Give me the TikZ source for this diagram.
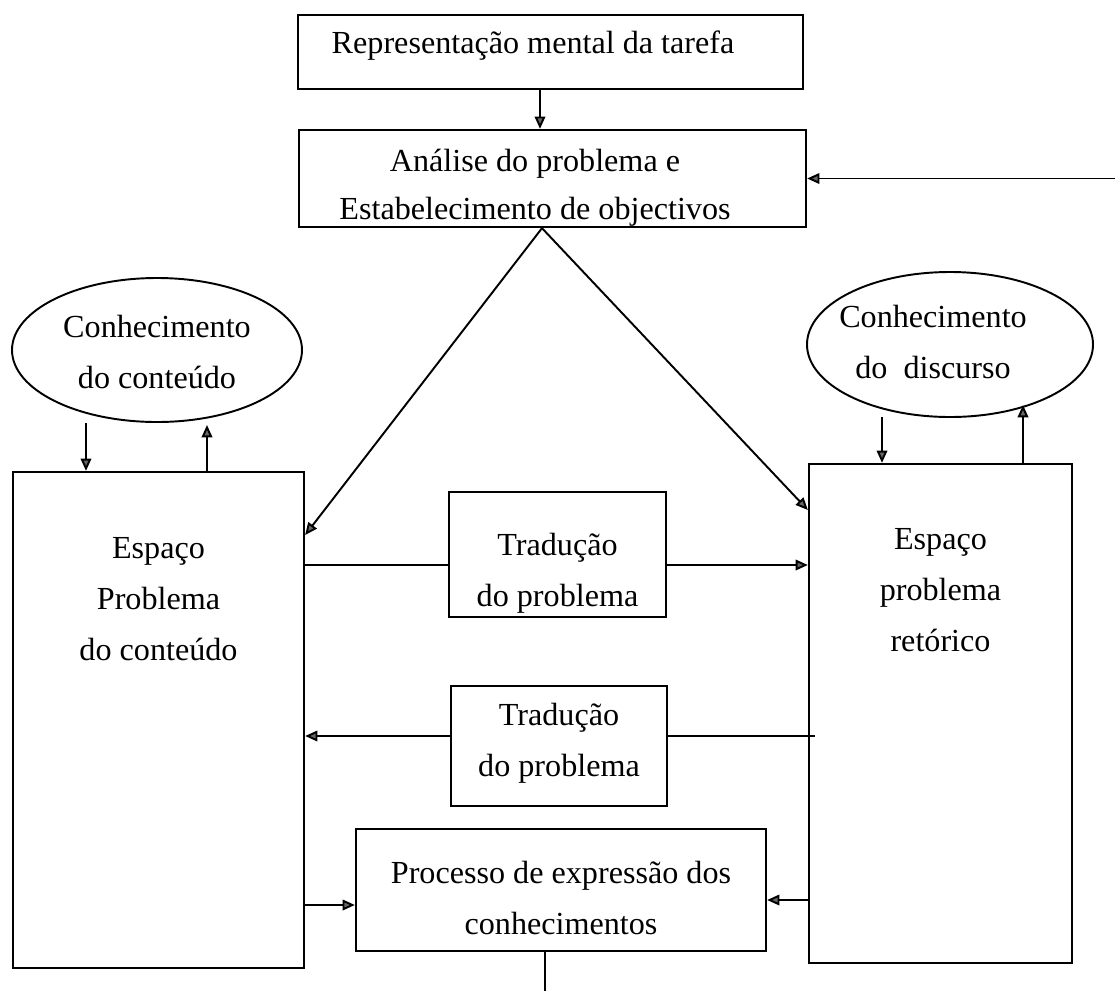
\documentclass[tikz,border=0pt]{standalone}
\usepackage{fontspec}
\setmainfont{Liberation Serif}
\usetikzlibrary{shapes.geometric,arrows.meta}

\begin{document}
\begin{tikzpicture}[x=0.02cm,y=-0.02cm,
  line width=1.1pt, >={Triangle[length=7pt,width=6pt,fill=black!60]},
  every node/.style={font=\fontsize{18.3}{29}\selectfont},
  box/.style={draw, line width=1.3pt, fill=white, inner sep=0pt},
  bubble/.style={draw, ellipse, line width=1.1pt, inner sep=0pt},
  txt/.style={anchor=base, align=center, inner sep=0pt}]
\useasboundingbox (0,0) rectangle (1115,991);

% boxes
\node[box, minimum width=505*0.02cm, minimum height=74*0.02cm] (task) at (550.5,52) {};
\node[box, minimum width=507*0.02cm, minimum height=97*0.02cm] (goals) at (552.5,178.5) {};
\node[bubble, minimum width=290*0.02cm, minimum height=144*0.02cm] (cont) at (157,350) {};
\node[bubble, minimum width=286*0.02cm, minimum height=145*0.02cm] (disc) at (950,344.5) {};
\node[box, minimum width=291*0.02cm, minimum height=496*0.02cm] (lspace) at (158.5,720) {};
\node[box, minimum width=263*0.02cm, minimum height=499*0.02cm] (rspace) at (940.5,713.5) {};
\node[box, minimum width=410*0.02cm, minimum height=122*0.02cm] (expr) at (561,890) {};

% free ends
\coordinate (fb) at (1115,178.5);
\coordinate (lc-in) at (86,423);
\coordinate (lc-out) at (207,425);
\coordinate (rc-in) at (882,417);
\coordinate (rc-out) at (1023,405);
\coordinate (end) at (545,991);

\draw[->] (task.south -| 540,0) -- (goals.north -| 540,0);
\draw[->] (fb) -- (goals.east);
\draw[->] (goals.south -| 542,0) -- (lspace.east |- 0,535);
\draw[->] (goals.south -| 542,0) -- (rspace.west |- 0,510);

\draw[->] (lc-in) -- (lspace.north -| lc-in);
\draw[->] (lspace.north -| lc-out) -- (lc-out);
\draw[->] (rc-in) -- (rspace.north -| rc-in);
\draw[->] (rspace.north -| rc-out) -- (rc-out);

\draw[->] (lspace.east |- 0,565) -- (rspace.west |- 0,565);
\draw[->] ([xshift=0.14cm]rspace.west |- 0,736) -- (lspace.east |- 0,736);
\draw[->] (lspace.east |- 0,905) -- (expr.west |- 0,905);
\draw[->] (rspace.west |- 0,900) -- (expr.east |- 0,900);
\draw (expr.south -| end) -- (end);

% boxes over the lines
\node[box, minimum width=217*0.02cm, minimum height=125*0.02cm] (trad1) at (557.5,554.5) {};
\node[box, minimum width=216*0.02cm, minimum height=120*0.02cm] (trad2) at (559,746) {};

% texts (base = last line)
\node[txt] (task-t) at (533,53) {Representação mental da tarefa};
\node[txt] (goals-t) at (535,219) {Análise do problema e\\[-2pt] Estabelecimento de objectivos};
\node[txt] (cont-t) at (157,388) {Conhecimento\\ do conteúdo};
\node[txt] (disc-t) at (933,378) {Conhecimento\\ do\ \ discurso};
\node[txt] (lspace-t) at (158.5,660) {Espaço\\ Problema\\ do conteúdo};
\node[txt] (rspace-t) at (940.5,651) {Espaço\\ problema\\ retórico};
\node[txt] (trad1-t) at (557.5,606) {Tradução\\ do problema};
\node[txt] (trad2-t) at (559,776) {Tradução\\ do problema};
\node[txt] (expr-t) at (561,934) {Processo de expressão dos\\ conhecimentos};
\end{tikzpicture}
\end{document}
